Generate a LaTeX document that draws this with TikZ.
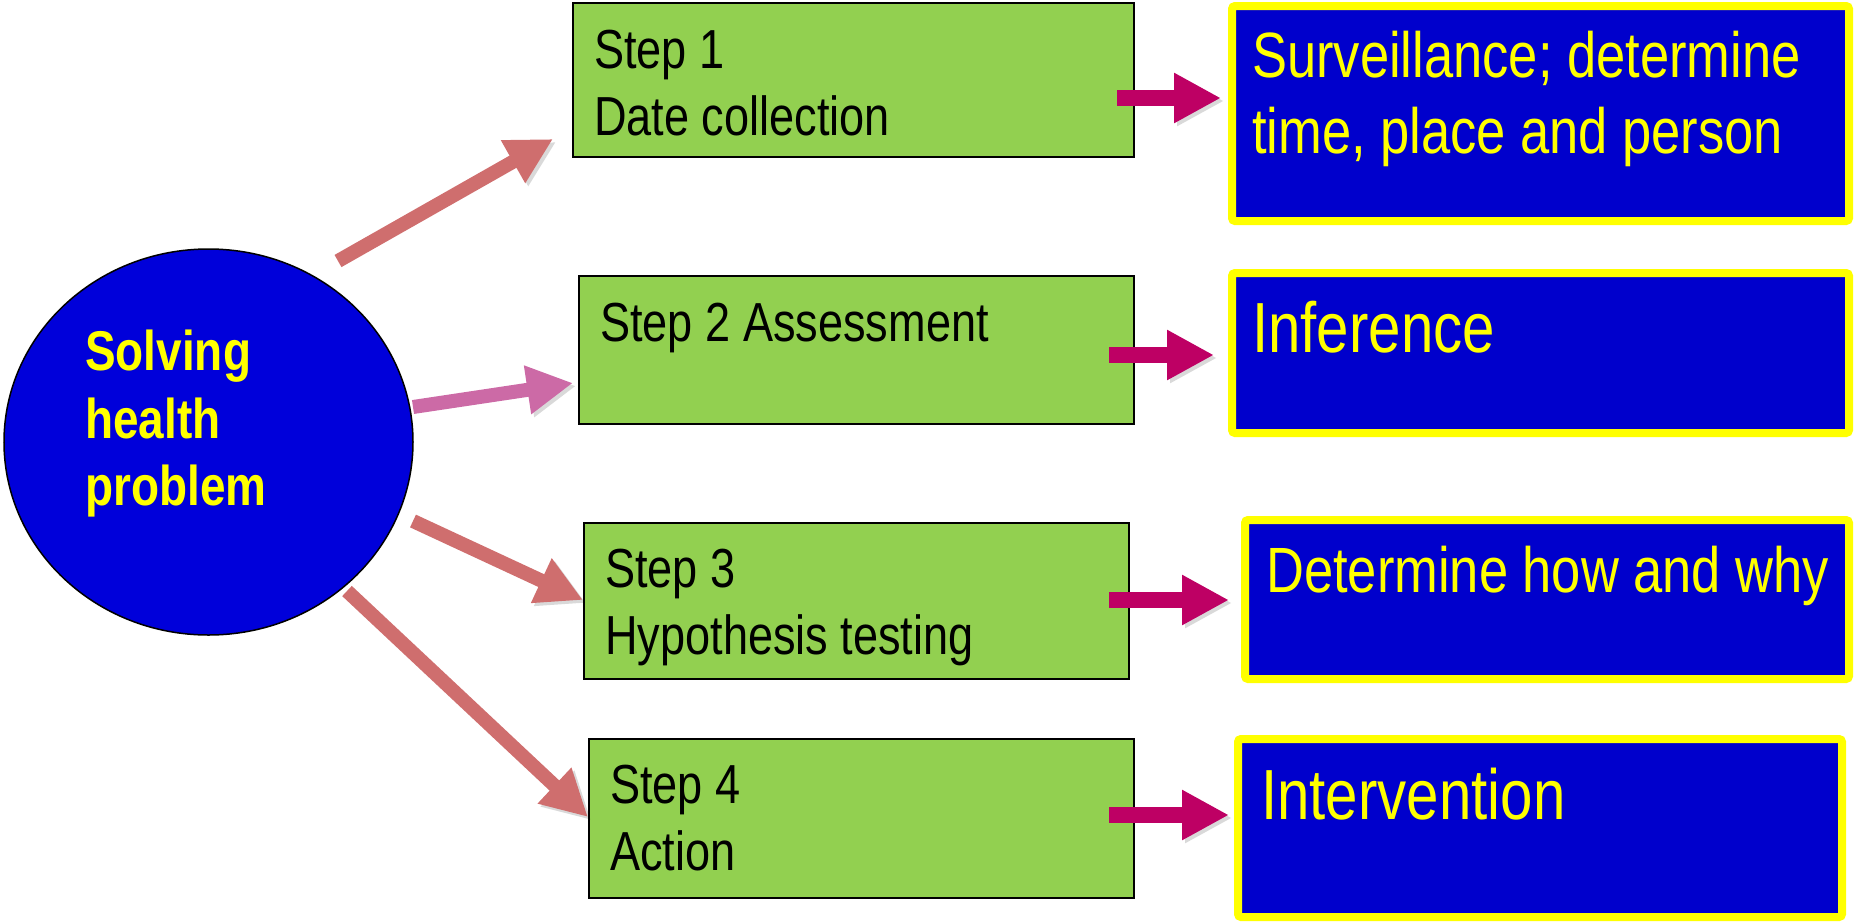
\documentclass[tikz,border=0pt]{standalone}
\usepackage{fontspec}
\setmainfont{Liberation Sans}[FakeStretch=0.82]
\usetikzlibrary{arrows.meta,shapes.geometric}
\definecolor{stepgreen}{HTML}{92D050}
\definecolor{deepblue}{HTML}{0000CC}
\definecolor{discblue}{HTML}{0000DA}
\definecolor{boxyellow}{HTML}{FFFF00}
\definecolor{salmon}{HTML}{CF6E6E}
\definecolor{orchid}{HTML}{CC6AA6}
\definecolor{berry}{HTML}{BE0064}

\begin{document}
\begin{tikzpicture}[x=1pt,y=-1pt,
  stepbox/.style={draw=black, line width=2pt, fill=stepgreen, rectangle, inner sep=0pt},
  resultbox/.style={draw=boxyellow, line width=8pt, fill=deepblue, rectangle,
    rounded corners=3pt, inner sep=0pt},
  steptext/.style={anchor=base west, inner sep=0pt, text=black,
    font=\fontsize{55}{66}\selectfont},
  resulttext/.style={anchor=base west, inner sep=0pt, text=boxyellow,
    font=\fontsize{64}{76}\selectfont},
  bigresult/.style={resulttext, font=\fontsize{71}{84}\selectfont},
  disctext/.style={anchor=base west, inner sep=0pt, text=boxyellow,
    font=\bfseries\fontsize{56}{67}\selectfont},
  softshadow/.style={preaction={draw=black, opacity=0.15,
    transform canvas={shift={(3pt,-3pt)}}}},
  bigarrow/.style={softshadow, line width=14pt,
    -{Triangle[width=46pt,length=46pt]}},
  smallarrow/.style={softshadow, draw=berry, line width=16pt,
    -{Triangle[width=47pt,length=47pt]}}
]
\useasboundingbox (0,0) rectangle (1855,922);

% central disc
\node[ellipse, draw=black, line width=1.5pt, fill=discblue,
  minimum width=409pt, minimum height=386pt, inner sep=0pt] (hub) at (208.5,442) {};
\node[disctext] (hub1) at (85,370) {Solving};
\node[disctext] (hub2) at (85,438) {health};
\node[disctext] (hub3) at (85,505) {problem};

% step boxes
\node[stepbox, minimum width=561pt, minimum height=154pt] (s1) at (853.5,80) {};
\node[stepbox, minimum width=555pt, minimum height=148pt] (s2) at (856.5,350) {};
\node[stepbox, minimum width=545pt, minimum height=156pt] (s3) at (856.5,601) {};
\node[stepbox, minimum width=545pt, minimum height=159pt] (s4) at (861.5,818.5) {};

\node[steptext] (s1a) at (594,68) {Step 1};
\node[steptext] (s1b) at (594,135) {Date collection};
\node[steptext] (s2a) at (600,341) {Step 2 Assessment};
\node[steptext] (s3a) at (605,587) {Step 3};
\node[steptext] (s3b) at (605,654) {Hypothesis testing};
\node[steptext] (s4a) at (610,803) {Step 4};
\node[steptext] (s4b) at (610,870) {Action};

% result boxes
\node[resultbox, minimum width=617pt, minimum height=215pt] (r1) at (1540.5,113.5) {};
\node[resultbox, minimum width=617pt, minimum height=160pt] (r2) at (1540.5,353) {};
\node[resultbox, minimum width=604pt, minimum height=159pt] (r3) at (1547,599.5) {};
\node[resultbox, minimum width=604pt, minimum height=178pt] (r4) at (1540,828) {};

\node[resulttext] (r1a) at (1252,77) {Surveillance; determine};
\node[resulttext] (r1b) at (1252,153) {time, place and person};
\node[bigresult] (r2a) at (1252,352) {Inference};
\node[resulttext] (r3a) at (1266,592) {Determine how and why};
\node[bigresult] (r4a) at (1261,819) {Intervention};

% arrow end points
\coordinate (h1) at (338,261);  \coordinate (e1) at (553,139);
\coordinate (h2) at (413,407);  \coordinate (e2) at (573,383);
\coordinate (h3) at (413,521);  \coordinate (e3) at (583,600);
\coordinate (h4) at (347,591);  \coordinate (e4) at (588,817);

\coordinate (m1) at (1117,98);  \coordinate (n1) at (1221,98);
\coordinate (m2) at (1109,355); \coordinate (n2) at (1214,355);
\coordinate (m3) at (1109,600); \coordinate (n3) at (1229,600);
\coordinate (m4) at (1109,815); \coordinate (n4) at (1229,815);

% arrows from the disc to the steps
\draw[bigarrow, draw=salmon] (h1) -- (e1);
\draw[bigarrow, draw=orchid] (h2) -- (e2);
\draw[bigarrow, draw=salmon] (h3) -- (e3);
\draw[bigarrow, draw=salmon] (h4) -- (e4);

% arrows from the steps to the results
\draw[smallarrow] (m1) -- (n1);
\draw[smallarrow] (m2) -- (n2);
\draw[smallarrow] (m3) -- (n3);
\draw[smallarrow] (m4) -- (n4);
\end{tikzpicture}
\end{document}
